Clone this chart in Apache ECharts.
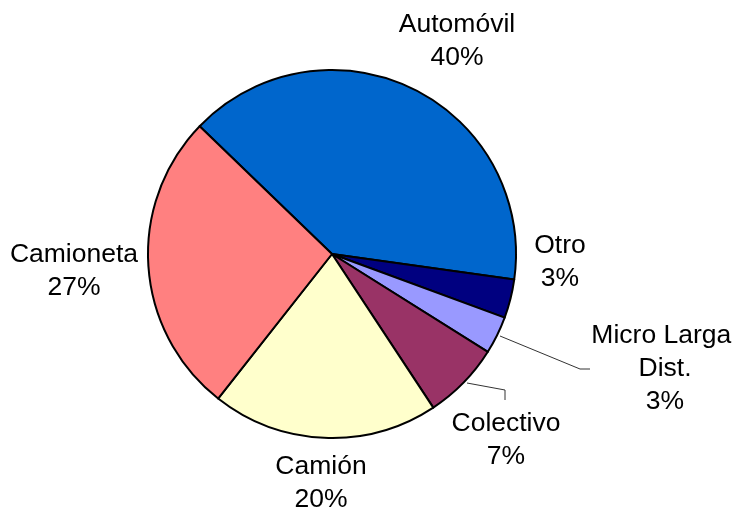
<!DOCTYPE html>
<html>
<head>
<meta charset="utf-8">
<script src="https://cdn.jsdelivr.net/npm/echarts@6/dist/echarts.min.js"></script>
<style>
html,body{margin:0;padding:0;background:#fff;}
#chart{width:744px;height:513px;}
</style>
</head>
<body>
<div id="chart"></div>
<script>
// Data
var categories = ['Automóvil', 'Otro', 'Micro Larga Dist.', 'Colectivo', 'Camión', 'Camioneta'];
var values = [40.0, 3.4, 3.3, 6.8, 19.9, 26.6];

// Styles
var colors = ['#0066CC', '#000080', '#9999FF', '#993366', '#FFFFCC', '#FF8080'];
var showLine = [false, false, true, true, false, false];
var labelPos = [
  {x: 457, y: 41},
  {x: 560, y: 262},
  {x: 665, y: 369},
  {x: 506, y: 440},
  {x: 321, y: 483},
  {x: 74, y: 271}
];
var linePts = [
  null,
  null,
  [[500, 336], [580, 369], [590, 369]],
  [[467, 383], [505, 390], [505, 400]],
  null,
  null
];

var chart = echarts.init(document.getElementById('chart'), null, {renderer: 'canvas'});
var data = categories.map(function (c, i) {
  return {
    name: c,
    value: values[i],
    itemStyle: {color: colors[i]},
    labelLine: {show: showLine[i]}
  };
});

chart.setOption({
  animation: false,
  backgroundColor: '#ffffff',
  series: [{
    type: 'pie',
    center: [332, 254],
    radius: 184,
    startAngle: 136,
    clockwise: true,
    data: data,
    itemStyle: {borderColor: '#000', borderWidth: 2},
    emphasis: {disabled: true},
    label: {
      show: true,
      position: 'outside',
      color: '#000',
      fontFamily: 'Liberation Sans, Arial, sans-serif',
      fontSize: 26.5,
      lineHeight: 33,
      align: 'center',
      width: 160,
      overflow: 'break',
      formatter: function (p) { return p.name + '\n' + Math.round(p.percent) + '%'; }
    },
    labelLine: {
      show: true,
      lineStyle: {color: '#333', width: 1}
    },
    labelLayout: function (p) {
      var i = p.dataIndex;
      var r = {x: labelPos[i].x, y: labelPos[i].y, align: 'center', verticalAlign: 'middle'};
      if (linePts[i]) r.labelLinePoints = linePts[i];
      return r;
    }
  }]
});
</script>
</body>
</html>
